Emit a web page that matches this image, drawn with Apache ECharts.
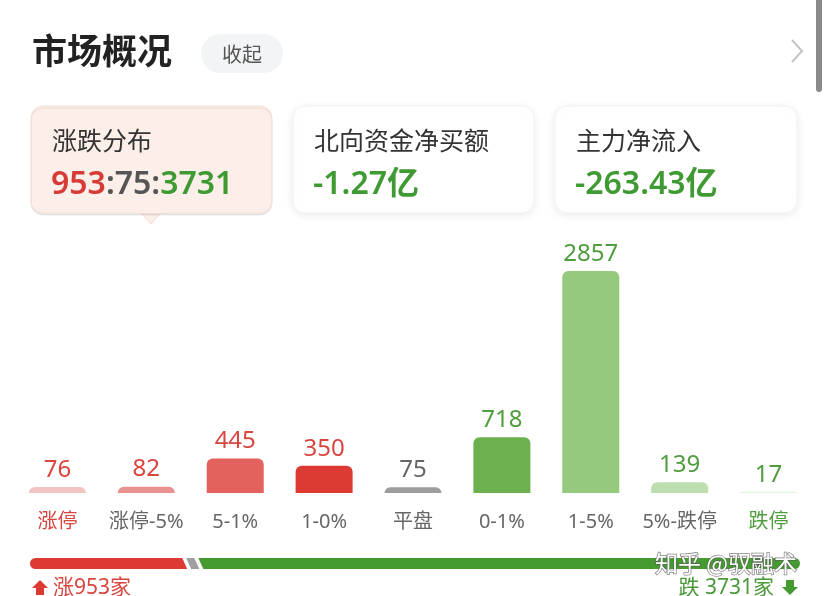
<!DOCTYPE html>
<html>
<head>
<meta charset="utf-8">
<script src="https://cdn.jsdelivr.net/npm/echarts@6/dist/echarts.min.js"></script>
<style>
  html, body { margin: 0; padding: 0; background: #fff; }
  #main { width: 828px; height: 596px; }
</style>
</head>
<body>
<div id="main"></div>
<script>
// 涨跌分布数据
const categories = ["涨停", "涨停-5%", "5-1%", "1-0%", "平盘", "0-1%", "1-5%", "5%-跌停", "跌停"];
const counts = [76, 82, 445, 350, 75, 718, 2857, 139, 17];
const barColors = ["#f2c5c4", "#e8918f", "#e4625e", "#dc3b33", "#9d9d9d", "#6cb04f", "#95ca7e", "#bddeaf", "#e4f1dd"];
const valueColors = ["#d9453f", "#d9453f", "#d9453f", "#d9453f", "#666666", "#4f9d3d", "#4f9d3d", "#4f9d3d", "#4f9d3d"];
const catColors = ["#d9453f", "#666", "#666", "#666", "#666", "#666", "#666", "#666", "#4f9d3d"];
// 涨 / 平 / 跌 家数
const breadth = [953, 75, 3731];
const breadthColors = ["#dc3a33", "#a0a0a0", "#459a30"];
// 卡片
const cardTitles = ["涨跌分布", "北向资金净买额", "主力净流入"];
const northFlow = "-1.27亿";
const mainFlow = "-263.43亿";

const FONT = "'Noto Sans CJK SC', 'Noto Sans', sans-serif";
const NUMFONT = "'Noto Sans', 'Noto Sans CJK SC', sans-serif";
const total = breadth.reduce((a, b) => a + b, 0);
let acc = 0;
const segs = breadth.map((v, i) => {
  const s = acc;
  acc += v;
  return [s, acc, i];
});

var myChart = echarts.init(document.getElementById("main"));

function card(x, w, bg, border, shadow) {
  return {
    type: "rect",
    shape: { x: x, y: 106, width: w, height: 107, r: 12 },
    style: {
      fill: bg,
      stroke: border,
      lineWidth: 1,
      shadowBlur: shadow ? 10 : 0,
      shadowColor: "rgba(0,0,0,0.08)",
      shadowOffsetY: 2,
    },
    z: 1,
  };
}

var option = {
  animation: false,
  backgroundColor: "#fff",
  grid: [
    { left: 13, right: 15, top: 271, bottom: 103 },
    { left: 30, right: 28, top: 558, height: 11 },
  ],
  xAxis: [
    {
      gridIndex: 0,
      type: "category",
      data: categories,
      axisLine: { show: false },
      axisTick: { show: false },
      axisLabel: {
        interval: 0,
        margin: 19,
        fontSize: 20,
        fontFamily: NUMFONT,
        color: (val, idx) => catColors[idx],
      },
    },
    { gridIndex: 1, type: "value", min: 0, max: total, show: false },
  ],
  yAxis: [
    { gridIndex: 0, type: "value", min: 0, max: "dataMax", show: false },
    { gridIndex: 1, type: "category", data: ["all"], show: false },
  ],
  series: [
    {
      type: "bar",
      xAxisIndex: 0,
      yAxisIndex: 0,
      barWidth: 57,
      data: counts.map((v, i) => ({
        value: v,
        itemStyle: { color: barColors[i], borderRadius: [6, 6, 0, 0] },
        label: { color: valueColors[i] },
      })),
      label: {
        show: true,
        position: "top",
        distance: 5,
        fontSize: 24,
        fontFamily: NUMFONT,
      },
    },
    {
      type: "custom",
      xAxisIndex: 1,
      yAxisIndex: 1,
      data: segs,
      renderItem: function (params, api) {
        const cs = params.coordSys;
        const top = cs.y, bot = cs.y + cs.height, h = cs.height;
        const i = api.value(2);
        const x0 = api.coord([api.value(0), 0])[0];
        const x1 = api.coord([api.value(1), 0])[0];
        const gap = 2, slant = 5;
        const color = breadthColors[i];
        const last = i === breadth.length - 1;
        let lt = i === 0 ? x0 + h / 2 : x0 + gap;
        let lb = i === 0 ? x0 + h / 2 : x0 + gap + slant;
        let rt = last ? x1 - h / 2 : x1 - gap;
        let rb = last ? x1 - h / 2 : x1 - gap + slant;
        const children = [
          {
            type: "polygon",
            shape: { points: [[lt, top], [rt, top], [rb, bot], [lb, bot]] },
            style: { fill: color },
          },
        ];
        if (i === 0) {
          children.push({ type: "circle", shape: { cx: x0 + h / 2, cy: top + h / 2, r: h / 2 }, style: { fill: color } });
        }
        if (last) {
          children.push({ type: "circle", shape: { cx: x1 - h / 2, cy: top + h / 2, r: h / 2 }, style: { fill: color } });
        }
        return { type: "group", children: children };
      },
    },
  ],
  graphic: [
    // 标题
    { type: "text", left: 32, top: 33, style: { text: "市场概况", font: "bold 35px " + FONT, fill: "#222" } },
    { type: "rect", shape: { x: 201, y: 34, width: 82, height: 39, r: 20 }, style: { fill: "#f3f4f6" } },
    { type: "text", x: 242, y: 54, style: { text: "收起", font: "20px " + FONT, fill: "#555", align: "center", verticalAlign: "middle" } },
    { type: "polyline", shape: { points: [[792, 40], [802, 51], [792, 62]] }, style: { stroke: "#c4c4c4", lineWidth: 2, fill: null } },
    { type: "rect", shape: { x: 816, y: -6, width: 6, height: 98, r: 3 }, style: { fill: "#8a8a8a" } },
    // 卡片
    card(31, 241, "#fcefe9", "#f5dfd5", false),
    { type: "polygon", shape: { points: [[140, 212], [162, 212], [151, 224]] }, style: { fill: "#fcefe9", stroke: "#f5dfd5", lineWidth: 1 }, z: 0 },
    { type: "rect", shape: { x: 139, y: 210, width: 24, height: 3 }, style: { fill: "#fcefe9" }, z: 2 },
    card(293, 241, "#fff", "#f2f2f2", true),
    card(555, 242, "#fff", "#f2f2f2", true),
    { type: "text", x: 52, y: 140, z: 3, style: { text: cardTitles[0], font: "25px " + FONT, fill: "#333", verticalAlign: "middle" } },
    { type: "text", x: 314, y: 140, z: 3, style: { text: cardTitles[1], font: "25px " + FONT, fill: "#333", verticalAlign: "middle" } },
    { type: "text", x: 576, y: 140, z: 3, style: { text: cardTitles[2], font: "25px " + FONT, fill: "#333", verticalAlign: "middle" } },
    {
      type: "text", x: 51, y: 185, z: 3,
      style: {
        text: "{r|" + breadth[0] + "}{g|:" + breadth[1] + ":}{d|" + breadth[2] + "}",
        verticalAlign: "middle",
        rich: {
          r: { font: "600 32px " + NUMFONT, fill: "#d63b36" },
          g: { font: "600 32px " + NUMFONT, fill: "#555" },
          d: { font: "600 32px " + NUMFONT, fill: "#3f9a33" },
        },
      },
    },
    { type: "text", x: 313, y: 185, z: 3, style: { text: northFlow, font: "600 32px " + NUMFONT, fill: "#3f9a33", verticalAlign: "middle" } },
    { type: "text", x: 575, y: 185, z: 3, style: { text: mainFlow, font: "600 32px " + NUMFONT, fill: "#3f9a33", verticalAlign: "middle" } },
    // 底部说明
    { type: "polygon", shape: { points: [[40, 580], [48, 588], [44, 588], [44, 595], [36, 595], [36, 588], [32, 588]] }, style: { fill: "#dc3a33" } },
    { type: "text", x: 53, y: 588, style: { text: "涨" + breadth[0] + "家", font: "21px " + NUMFONT, fill: "#d9453f", verticalAlign: "middle" } },
    { type: "text", x: 774, y: 588, style: { text: "跌 " + breadth[2] + "家", font: "21px " + NUMFONT, fill: "#4a9a38", align: "right", verticalAlign: "middle" } },
    { type: "polygon", shape: { points: [[786, 580], [794, 580], [794, 587], [798, 587], [790, 595], [782, 587], [786, 587]] }, style: { fill: "#459a30" } },
    // 水印
    { type: "text", x: 655, y: 563, z: 10, style: { text: "知乎 @驭融术", font: "23px " + FONT, fill: "#fff", stroke: "rgba(90,90,90,0.75)", lineWidth: 1.5, verticalAlign: "middle" } },
  ],
};
myChart.setOption(option);
</script>
</body>
</html>
